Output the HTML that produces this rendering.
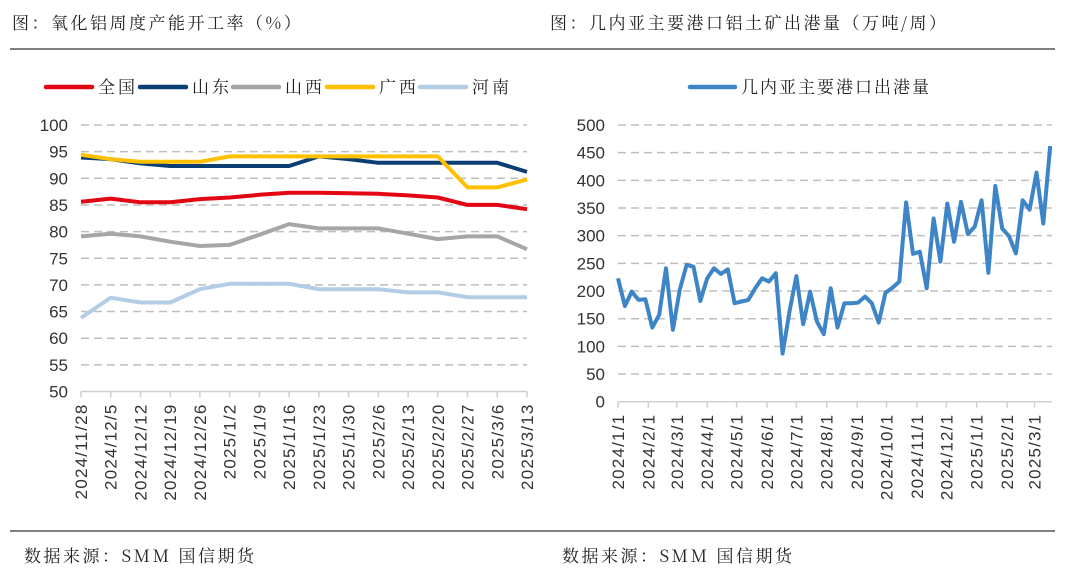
<!DOCTYPE html>
<html><head><meta charset="utf-8">
<style>
body{margin:0;background:#fff;width:1080px;height:578px;overflow:hidden;font-family:"Liberation Sans","Noto Sans CJK SC",sans-serif;}
svg{display:block}
</style></head>
<body>
<svg id="s" width="1080" height="578" xmlns="http://www.w3.org/2000/svg">
<text x="12" y="29" font-size="17" fill="#222" font-family="Noto Serif CJK SC, serif" letter-spacing="2.5">图：氧化铝周度产能开工率（%）</text>
<text x="550" y="29" font-size="17" fill="#222" font-family="Noto Serif CJK SC, serif" letter-spacing="2.5">图：几内亚主要港口铝土矿出港量（万吨/周）</text>
<line x1="10" y1="49" x2="1055" y2="49" stroke="#555" stroke-width="1.5"/>
<line x1="10" y1="531" x2="1055" y2="531" stroke="#555" stroke-width="1.5"/>
<text x="24" y="562" font-size="17" fill="#222" font-family="Noto Serif CJK SC, serif" letter-spacing="2.5">数据来源：SMM 国信期货</text>
<text x="562" y="562" font-size="17" fill="#222" font-family="Noto Serif CJK SC, serif" letter-spacing="2.5">数据来源：SMM 国信期货</text>
<g id="left"></g><g id="right"></g>
</svg>
<script>
const NS="http://www.w3.org/2000/svg";
const leftCats=["2024/11/28","2024/12/5","2024/12/12","2024/12/19","2024/12/26","2025/1/2","2025/1/9","2025/1/16","2025/1/23","2025/1/30","2025/2/6","2025/2/13","2025/2/20","2025/2/27","2025/3/6","2025/3/13"];
const seriesNames=["全国","山东","山西","广西","河南"];
const seriesColors=["#e30613","#0b3f73","#a6a6a6","#ffc000","#b4cde6"];
const national=[85.6,86.2,85.5,85.5,86.1,86.4,86.9,87.3,87.3,87.2,87.1,86.8,86.4,85.0,85.0,84.2];
const shandong=[93.9,93.6,92.8,92.3,92.3,92.3,92.3,92.3,94.1,93.6,92.9,92.9,92.9,92.9,92.9,91.2];
const shanxi=[79.1,79.6,79.1,78.1,77.3,77.5,79.4,81.4,80.6,80.6,80.6,79.6,78.6,79.1,79.1,76.7];
const guangxi=[94.4,93.6,93.1,93.1,93.1,94.1,94.1,94.1,94.1,94.1,94.1,94.1,94.1,88.3,88.3,89.8];
const henan=[63.8,67.6,66.7,66.7,69.2,70.2,70.2,70.2,69.2,69.2,69.2,68.6,68.6,67.7,67.7,67.7];
const leftTicks=[50,55,60,65,70,75,80,85,90,95,100];
const rightMonths=["2024/1/1","2024/2/1","2024/3/1","2024/4/1","2024/5/1","2024/6/1","2024/7/1","2024/8/1","2024/9/1","2024/10/1","2024/11/1","2024/12/1","2025/1/1","2025/2/1","2025/3/1"];
const rightValues=[223,173,199,184,185,134,157,241,130,202,247,244,182,223,241,231,239,178,181,184,205,223,217,232,87,163,227,140,199,145,122,205,134,178,178,179,190,178,143,197,206,217,360,267,271,205,331,253,358,289,361,303,316,364,233,390,313,299,268,364,347,414,322,462];
const rightTicks=[0,50,100,150,200,250,300,350,400,450,500];

function el(tag,attrs,parent,text){const e=document.createElementNS(NS,tag);for(const k in attrs)e.setAttribute(k,attrs[k]);if(text!==undefined)e.textContent=text;parent.appendChild(e);return e;}
const FONT="Liberation Sans, sans-serif";

// LEFT
const L=document.getElementById('left');
const lx0=81,lx1=527;
const lx=i=>lx0+i*(lx1-lx0)/(leftCats.length-1);
const ly=v=>125+(100-v)*(391.5-125)/50;
leftTicks.forEach(t=>{
  if(t>50){const g=el('line',{x1:lx0,x2:lx1,y1:ly(t),y2:ly(t),stroke:'#bfbfbf','stroke-width':1.5,'stroke-dasharray':'8,5'},L);
  
  }
  const tx=el('text',{x:68,y:ly(t)+6,'font-size':17,'text-anchor':'end',fill:'#333','font-family':FONT},L,t);
  
  
});
const lax=el('line',{x1:lx0,x2:lx1,y1:ly(50),y2:ly(50),stroke:'#d0d0d0','stroke-width':1.5},L);


leftCats.forEach((c,i)=>{
  const tk=el('line',{x1:lx(i),x2:lx(i),y1:ly(50),y2:ly(50)+6,stroke:'#d0d0d0','stroke-width':1.5},L);
  
  
  const tx=el('text',{transform:`translate(${lx(i)+6},${ly(50)+12}) rotate(-90)`,'font-size':17,'letter-spacing':'1.2','text-anchor':'end',fill:'#333','font-family':FONT},L,c);
  
  
});
const allL=[national,shandong,shanxi,guangxi,henan];
[4,2,0,1,3].forEach(k=>{
  const pts=allL[k].map((v,i)=>lx(i).toFixed(1)+','+ly(v).toFixed(1)).join(' ');
  const p=el('polyline',{points:pts,fill:'none',stroke:seriesColors[k],'stroke-width':4,'stroke-linejoin':'round'},L);
  
  
});
const legX=[46,140,233,327,420];
seriesNames.forEach((n,k)=>{
  const g=el('g',{},L);
  
  
  el('line',{x1:legX[k],x2:legX[k]+46,y1:87,y2:87,stroke:seriesColors[k],'stroke-width':4.5,'stroke-linecap':'round'},g);
  el('text',{x:legX[k]+52,y:93,'font-size':17,fill:'#222','font-family':'Noto Serif CJK SC, serif','letter-spacing':'3'},g,n);
});

// RIGHT
const R=document.getElementById('right');
const rx0=618,kDay=0.98;
const rx=i=>rx0+i*7*kDay;
const ry=v=>401.7-v*(401.7-125)/500;
const base=Date.UTC(2024,0,1);
const dayOf=s=>{const [y,m,d]=s.split('/').map(Number);return (Date.UTC(y,m-1,d)-base)/864e5;};
rightTicks.forEach(t=>{
  if(t>0){const g=el('line',{x1:rx0,x2:1052,y1:ry(t),y2:ry(t),stroke:'#bfbfbf','stroke-width':1.5,'stroke-dasharray':'8,5'},R);
  
  }
  const tx=el('text',{x:605,y:ry(t)+6,'font-size':17,'text-anchor':'end',fill:'#333','font-family':FONT},R,t);
  
  
});
const rax=el('line',{x1:rx0,x2:1052,y1:ry(0),y2:ry(0),stroke:'#d0d0d0','stroke-width':1.5},R);


rightMonths.forEach(m=>{
  const x=rx0+dayOf(m)*kDay;
  const tk=el('line',{x1:x,x2:x,y1:ry(0),y2:ry(0)+6,stroke:'#d0d0d0','stroke-width':1.5},R);
  
  
  const tx=el('text',{transform:`translate(${x+6},${ry(0)+12}) rotate(-90)`,'font-size':17,'letter-spacing':'1.2','text-anchor':'end',fill:'#333','font-family':FONT},R,m);
  
  
});
const rp=el('polyline',{points:rightValues.map((v,i)=>rx(i).toFixed(1)+','+ry(v).toFixed(1)).join(' '),fill:'none',stroke:'#3d85c6','stroke-width':4,'stroke-linejoin':'round'},R);


const rg=el('g',{},R);


el('line',{x1:690,x2:735,y1:87,y2:87,stroke:'#3d85c6','stroke-width':4.5,'stroke-linecap':'round'},rg);
el('text',{x:741,y:93,'font-size':17,fill:'#222','font-family':'Noto Serif CJK SC, serif','letter-spacing':'2'},rg,'几内亚主要港口出港量');
</script>
</body></html>
